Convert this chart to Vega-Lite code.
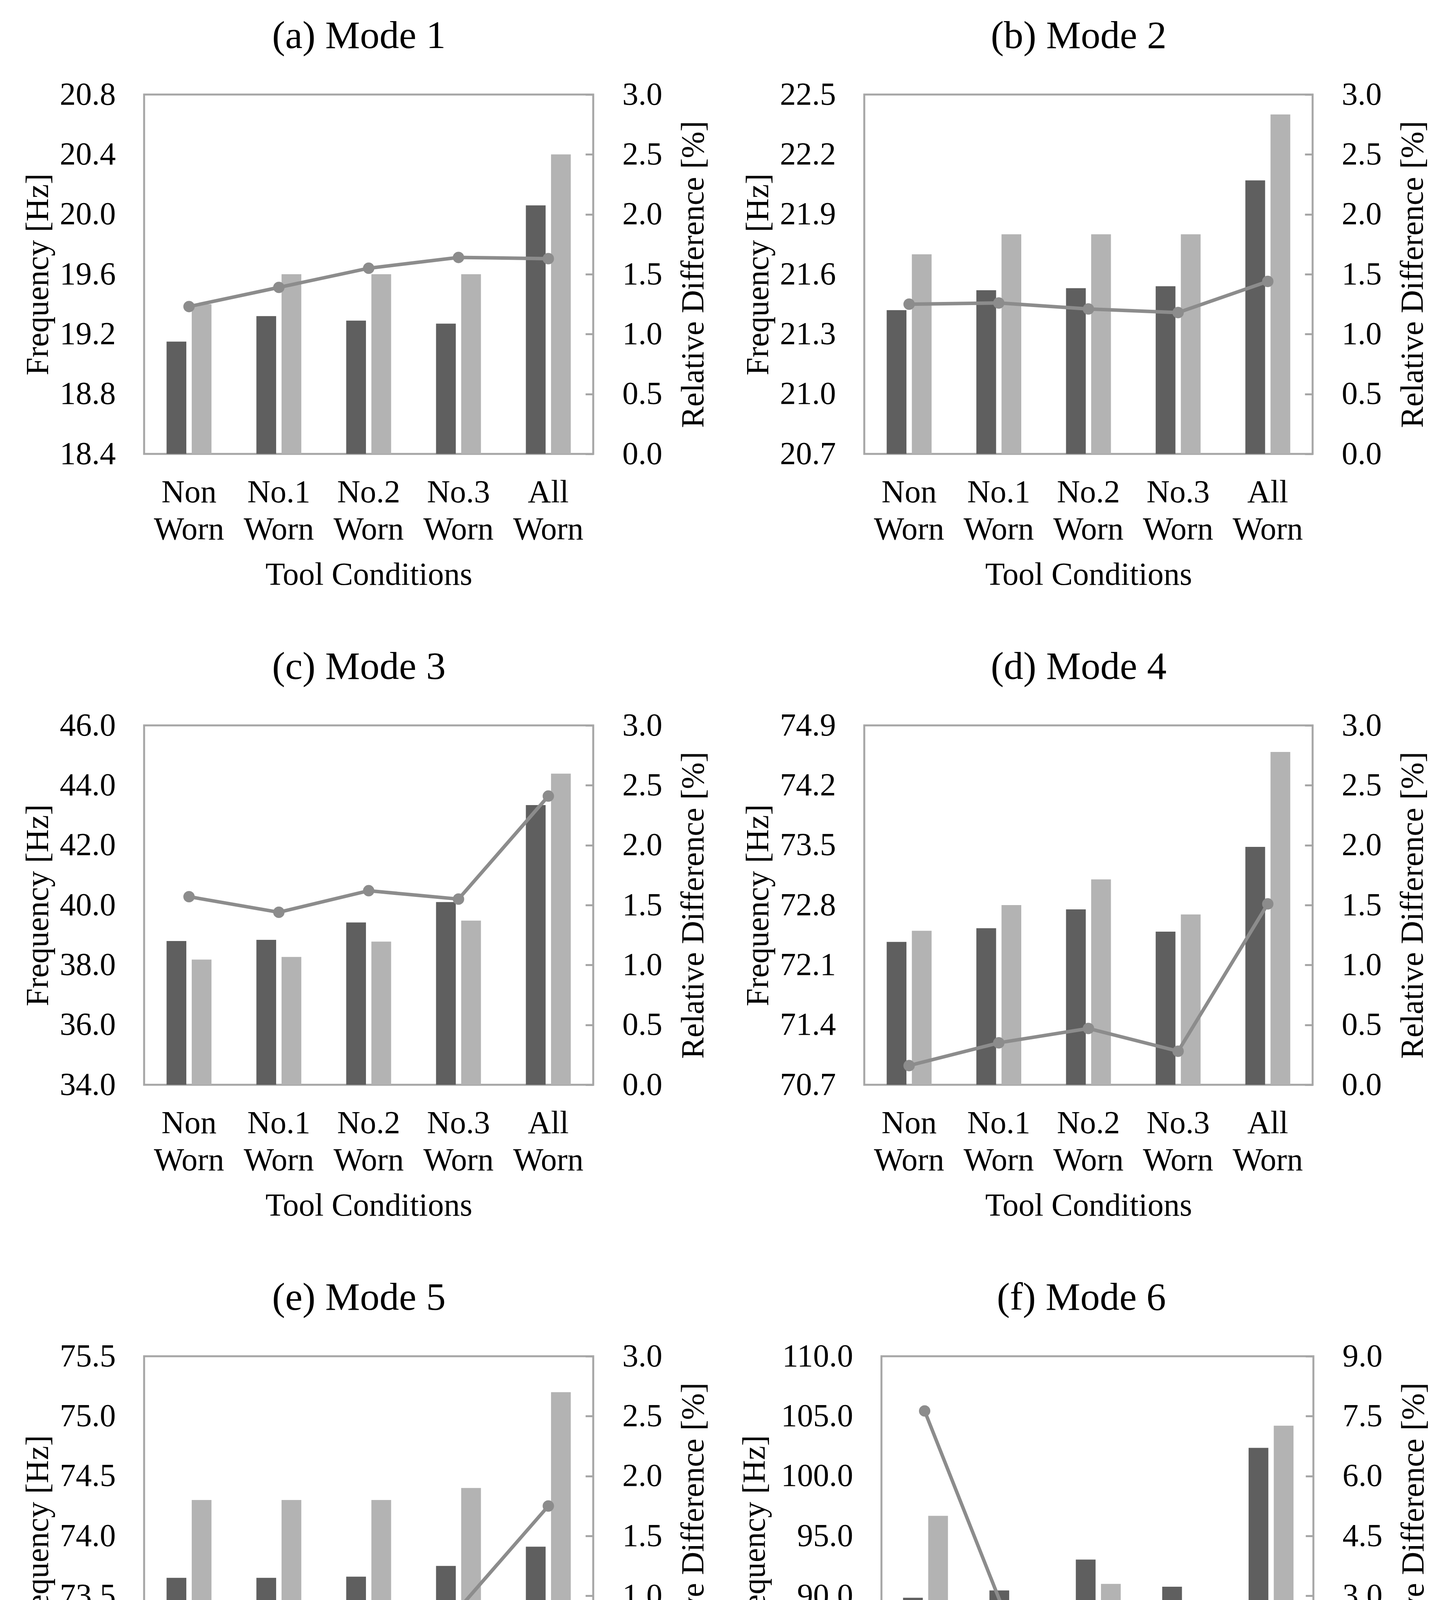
{
  "$schema": "https://vega.github.io/schema/vega-lite/v6.json",
  "background": "white",
  "padding": {"left": 53, "top": 40, "right": 5, "bottom": 5},
  "datasets": {
    "freq": [
      {"mode": 1, "cond": "Non Worn", "series": "Modal Analysis", "value": 19.15},
      {"mode": 1, "cond": "No.1 Worn", "series": "Modal Analysis", "value": 19.32},
      {"mode": 1, "cond": "No.2 Worn", "series": "Modal Analysis", "value": 19.29},
      {"mode": 1, "cond": "No.3 Worn", "series": "Modal Analysis", "value": 19.27},
      {"mode": 1, "cond": "All Worn", "series": "Modal Analysis", "value": 20.06},
      {"mode": 1, "cond": "Non Worn", "series": "Dynamic Analysis", "value": 19.4},
      {"mode": 1, "cond": "No.1 Worn", "series": "Dynamic Analysis", "value": 19.6},
      {"mode": 1, "cond": "No.2 Worn", "series": "Dynamic Analysis", "value": 19.6},
      {"mode": 1, "cond": "No.3 Worn", "series": "Dynamic Analysis", "value": 19.6},
      {"mode": 1, "cond": "All Worn", "series": "Dynamic Analysis", "value": 20.4},
      {"mode": 2, "cond": "Non Worn", "series": "Modal Analysis", "value": 21.42},
      {"mode": 2, "cond": "No.1 Worn", "series": "Modal Analysis", "value": 21.52},
      {"mode": 2, "cond": "No.2 Worn", "series": "Modal Analysis", "value": 21.53},
      {"mode": 2, "cond": "No.3 Worn", "series": "Modal Analysis", "value": 21.54},
      {"mode": 2, "cond": "All Worn", "series": "Modal Analysis", "value": 22.07},
      {"mode": 2, "cond": "Non Worn", "series": "Dynamic Analysis", "value": 21.7},
      {"mode": 2, "cond": "No.1 Worn", "series": "Dynamic Analysis", "value": 21.8},
      {"mode": 2, "cond": "No.2 Worn", "series": "Dynamic Analysis", "value": 21.8},
      {"mode": 2, "cond": "No.3 Worn", "series": "Dynamic Analysis", "value": 21.8},
      {"mode": 2, "cond": "All Worn", "series": "Dynamic Analysis", "value": 22.4},
      {"mode": 3, "cond": "Non Worn", "series": "Modal Analysis", "value": 38.8},
      {"mode": 3, "cond": "No.1 Worn", "series": "Modal Analysis", "value": 38.84},
      {"mode": 3, "cond": "No.2 Worn", "series": "Modal Analysis", "value": 39.42},
      {"mode": 3, "cond": "No.3 Worn", "series": "Modal Analysis", "value": 40.1},
      {"mode": 3, "cond": "All Worn", "series": "Modal Analysis", "value": 43.34},
      {"mode": 3, "cond": "Non Worn", "series": "Dynamic Analysis", "value": 38.18},
      {"mode": 3, "cond": "No.1 Worn", "series": "Dynamic Analysis", "value": 38.27},
      {"mode": 3, "cond": "No.2 Worn", "series": "Dynamic Analysis", "value": 38.78},
      {"mode": 3, "cond": "No.3 Worn", "series": "Dynamic Analysis", "value": 39.48},
      {"mode": 3, "cond": "All Worn", "series": "Dynamic Analysis", "value": 44.39},
      {"mode": 4, "cond": "Non Worn", "series": "Modal Analysis", "value": 72.37},
      {"mode": 4, "cond": "No.1 Worn", "series": "Modal Analysis", "value": 72.53},
      {"mode": 4, "cond": "No.2 Worn", "series": "Modal Analysis", "value": 72.75},
      {"mode": 4, "cond": "No.3 Worn", "series": "Modal Analysis", "value": 72.49},
      {"mode": 4, "cond": "All Worn", "series": "Modal Analysis", "value": 73.48},
      {"mode": 4, "cond": "Non Worn", "series": "Dynamic Analysis", "value": 72.5},
      {"mode": 4, "cond": "No.1 Worn", "series": "Dynamic Analysis", "value": 72.8},
      {"mode": 4, "cond": "No.2 Worn", "series": "Dynamic Analysis", "value": 73.1},
      {"mode": 4, "cond": "No.3 Worn", "series": "Dynamic Analysis", "value": 72.69},
      {"mode": 4, "cond": "All Worn", "series": "Dynamic Analysis", "value": 74.59},
      {"mode": 5, "cond": "Non Worn", "series": "Modal Analysis", "value": 73.65},
      {"mode": 5, "cond": "No.1 Worn", "series": "Modal Analysis", "value": 73.65},
      {"mode": 5, "cond": "No.2 Worn", "series": "Modal Analysis", "value": 73.66},
      {"mode": 5, "cond": "No.3 Worn", "series": "Modal Analysis", "value": 73.75},
      {"mode": 5, "cond": "All Worn", "series": "Modal Analysis", "value": 73.91},
      {"mode": 5, "cond": "Non Worn", "series": "Dynamic Analysis", "value": 74.3},
      {"mode": 5, "cond": "No.1 Worn", "series": "Dynamic Analysis", "value": 74.3},
      {"mode": 5, "cond": "No.2 Worn", "series": "Dynamic Analysis", "value": 74.3},
      {"mode": 5, "cond": "No.3 Worn", "series": "Dynamic Analysis", "value": 74.4},
      {"mode": 5, "cond": "All Worn", "series": "Dynamic Analysis", "value": 75.2},
      {"mode": 6, "cond": "Non Worn", "series": "Modal Analysis", "value": 89.84},
      {"mode": 6, "cond": "No.1 Worn", "series": "Modal Analysis", "value": 90.45},
      {"mode": 6, "cond": "No.2 Worn", "series": "Modal Analysis", "value": 93.03},
      {"mode": 6, "cond": "No.3 Worn", "series": "Modal Analysis", "value": 90.76},
      {"mode": 6, "cond": "All Worn", "series": "Modal Analysis", "value": 102.35},
      {"mode": 6, "cond": "Non Worn", "series": "Dynamic Analysis", "value": 96.68},
      {"mode": 6, "cond": "No.1 Worn", "series": "Dynamic Analysis", "value": 88.5},
      {"mode": 6, "cond": "No.2 Worn", "series": "Dynamic Analysis", "value": 91.0},
      {"mode": 6, "cond": "No.3 Worn", "series": "Dynamic Analysis", "value": 88.9},
      {"mode": 6, "cond": "All Worn", "series": "Dynamic Analysis", "value": 104.2}
    ],
    "rel": [
      {"mode": 1, "cond": "Non Worn", "rd": 1.23},
      {"mode": 1, "cond": "No.1 Worn", "rd": 1.39},
      {"mode": 1, "cond": "No.2 Worn", "rd": 1.55},
      {"mode": 1, "cond": "No.3 Worn", "rd": 1.64},
      {"mode": 1, "cond": "All Worn", "rd": 1.63},
      {"mode": 2, "cond": "Non Worn", "rd": 1.25},
      {"mode": 2, "cond": "No.1 Worn", "rd": 1.26},
      {"mode": 2, "cond": "No.2 Worn", "rd": 1.21},
      {"mode": 2, "cond": "No.3 Worn", "rd": 1.18},
      {"mode": 2, "cond": "All Worn", "rd": 1.44},
      {"mode": 3, "cond": "Non Worn", "rd": 1.57},
      {"mode": 3, "cond": "No.1 Worn", "rd": 1.44},
      {"mode": 3, "cond": "No.2 Worn", "rd": 1.62},
      {"mode": 3, "cond": "No.3 Worn", "rd": 1.55},
      {"mode": 3, "cond": "All Worn", "rd": 2.41},
      {"mode": 4, "cond": "Non Worn", "rd": 0.16},
      {"mode": 4, "cond": "No.1 Worn", "rd": 0.35},
      {"mode": 4, "cond": "No.2 Worn", "rd": 0.47},
      {"mode": 4, "cond": "No.3 Worn", "rd": 0.28},
      {"mode": 4, "cond": "All Worn", "rd": 1.51},
      {"mode": 5, "cond": "Non Worn", "rd": 0.88},
      {"mode": 5, "cond": "No.1 Worn", "rd": 0.88},
      {"mode": 5, "cond": "No.2 Worn", "rd": 0.87},
      {"mode": 5, "cond": "No.3 Worn", "rd": 0.89},
      {"mode": 5, "cond": "All Worn", "rd": 1.75},
      {"mode": 6, "cond": "Non Worn", "rd": 7.63},
      {"mode": 6, "cond": "No.1 Worn", "rd": 2.17},
      {"mode": 6, "cond": "No.2 Worn", "rd": 2.18},
      {"mode": 6, "cond": "No.3 Worn", "rd": 2.05},
      {"mode": 6, "cond": "All Worn", "rd": 1.8}
    ]
  },
  "spacing": 140,
  "vconcat": [
    {
      "spacing": 78,
      "hconcat": [
        {
          "title": {"text": "(a) Mode 1", "dx": -25},
          "width": 1150, "height": 920,
          "layer": [
            {
              "data": {"name": "freq"},
              "transform": [{"filter": "datum.mode == 1"}],
              "mark": {"type": "bar", "clip": true},
              "encoding": {
                "x": {"field": "cond", "type": "nominal", "sort": ["Non Worn", "No.1 Worn", "No.2 Worn", "No.3 Worn", "All Worn"], "scale": {"paddingInner": 0.5, "paddingOuter": 0.25}, "axis": {"title": "Tool Conditions", "labelExpr": "split(datum.label, ' ')"}},
                "xOffset": {"field": "series", "type": "nominal", "sort": ["Modal Analysis", "Dynamic Analysis"], "scale": {"paddingInner": 0.215, "paddingOuter": 0}},
                "y": {"field": "value", "type": "quantitative", "scale": {"domain": [18.4, 20.8], "zero": false, "nice": false}, "axis": {"title": "Frequency [Hz]", "values": [18.4, 18.8, 19.2, 19.6, 20.0, 20.4, 20.8], "format": ".1f"}},
                "color": {
                  "field": "series", "type": "nominal",
                  "scale": {"domain": ["Modal Analysis", "Dynamic Analysis", "Relative Difference"], "range": ["#5f5f5f", "#b3b3b3", "#8c8c8c"]},
                  "legend": {
                    "orient": "none", "legendX": 63, "legendY": 4607, "direction": "horizontal", "title": null,
                    "labelFontSize": 90, "labelColor": "#595959", "labelFont": "Liberation Serif", "labelLimit": 2000,
                    "labelOffset": 117, "columnPadding": 150, "symbolSize": 2209, "symbolStrokeWidth": 0,
                    "encode": {
                      "symbols": {
                        "update": {
                          "shape": {"signal": "datum.value === 'Relative Difference' ? 'M-1,-0.213H6.36V0.213H-1Z M2.0,0A0.68,0.68 0 1 1 3.36,0A0.68,0.68 0 1 1 2.0,0Z' : 'M-1,-1H6.36V1H-1Z'"},
                          "fill": {"signal": "datum.value === 'Modal Analysis' ? '#5f5f5f' : datum.value === 'Dynamic Analysis' ? '#b3b3b3' : '#8c8c8c'"},
                          "stroke": {"value": "transparent"}
                        }
                      }
                    }
                  }
                }
              }
            },
            {
              "data": {"name": "rel"},
              "transform": [{"filter": "datum.mode == 1"}],
              "mark": {"type": "line", "color": "#8c8c8c", "strokeWidth": 9, "point": {"filled": true, "size": 850, "color": "#8c8c8c"}},
              "encoding": {
                "x": {"field": "cond", "type": "nominal", "sort": ["Non Worn", "No.1 Worn", "No.2 Worn", "No.3 Worn", "All Worn"], "axis": {"title": "Tool Conditions", "labelExpr": "split(datum.label, ' ')"}},
                "y": {"field": "rd", "type": "quantitative", "scale": {"domain": [0, 3], "nice": false}, "axis": {"orient": "right", "title": "Relative Difference [%]", "values": [0, 0.5, 1, 1.5, 2, 2.5, 3], "format": ".1f"}}
              }
            }
          ],
          "resolve": {"scale": {"y": "independent"}}
        },
        {
          "title": {"text": "(b) Mode 2", "dx": -25},
          "width": 1148, "height": 920,
          "layer": [
            {
              "data": {"name": "freq"},
              "transform": [{"filter": "datum.mode == 2"}],
              "mark": {"type": "bar", "clip": true},
              "encoding": {
                "x": {"field": "cond", "type": "nominal", "sort": ["Non Worn", "No.1 Worn", "No.2 Worn", "No.3 Worn", "All Worn"], "scale": {"paddingInner": 0.5, "paddingOuter": 0.25}, "axis": {"title": "Tool Conditions", "labelExpr": "split(datum.label, ' ')"}},
                "xOffset": {"field": "series", "type": "nominal", "sort": ["Modal Analysis", "Dynamic Analysis"], "scale": {"paddingInner": 0.215, "paddingOuter": 0}},
                "y": {"field": "value", "type": "quantitative", "scale": {"domain": [20.7, 22.5], "zero": false, "nice": false}, "axis": {"title": "Frequency [Hz]", "values": [20.7, 21.0, 21.3, 21.6, 21.9, 22.2, 22.5], "format": ".1f"}},
                "color": {"field": "series", "type": "nominal", "scale": {"domain": ["Modal Analysis", "Dynamic Analysis", "Relative Difference"], "range": ["#5f5f5f", "#b3b3b3", "#8c8c8c"]}, "legend": null}
              }
            },
            {
              "data": {"name": "rel"},
              "transform": [{"filter": "datum.mode == 2"}],
              "mark": {"type": "line", "color": "#8c8c8c", "strokeWidth": 9, "point": {"filled": true, "size": 850, "color": "#8c8c8c"}},
              "encoding": {
                "x": {"field": "cond", "type": "nominal", "sort": ["Non Worn", "No.1 Worn", "No.2 Worn", "No.3 Worn", "All Worn"], "axis": {"title": "Tool Conditions", "labelExpr": "split(datum.label, ' ')"}},
                "y": {"field": "rd", "type": "quantitative", "scale": {"domain": [0, 3], "nice": false}, "axis": {"orient": "right", "title": "Relative Difference [%]", "values": [0, 0.5, 1, 1.5, 2, 2.5, 3], "format": ".1f"}}
              }
            }
          ],
          "resolve": {"scale": {"y": "independent"}}
        }
      ]
    },
    {
      "spacing": 78,
      "hconcat": [
        {
          "title": {"text": "(c) Mode 3", "dx": -25},
          "width": 1150, "height": 920,
          "layer": [
            {
              "data": {"name": "freq"},
              "transform": [{"filter": "datum.mode == 3"}],
              "mark": {"type": "bar", "clip": true},
              "encoding": {
                "x": {"field": "cond", "type": "nominal", "sort": ["Non Worn", "No.1 Worn", "No.2 Worn", "No.3 Worn", "All Worn"], "scale": {"paddingInner": 0.5, "paddingOuter": 0.25}, "axis": {"title": "Tool Conditions", "labelExpr": "split(datum.label, ' ')"}},
                "xOffset": {"field": "series", "type": "nominal", "sort": ["Modal Analysis", "Dynamic Analysis"], "scale": {"paddingInner": 0.215, "paddingOuter": 0}},
                "y": {"field": "value", "type": "quantitative", "scale": {"domain": [34, 46], "zero": false, "nice": false}, "axis": {"title": "Frequency [Hz]", "values": [34, 36, 38, 40, 42, 44, 46], "format": ".1f"}},
                "color": {"field": "series", "type": "nominal", "scale": {"domain": ["Modal Analysis", "Dynamic Analysis", "Relative Difference"], "range": ["#5f5f5f", "#b3b3b3", "#8c8c8c"]}, "legend": null}
              }
            },
            {
              "data": {"name": "rel"},
              "transform": [{"filter": "datum.mode == 3"}],
              "mark": {"type": "line", "color": "#8c8c8c", "strokeWidth": 9, "point": {"filled": true, "size": 850, "color": "#8c8c8c"}},
              "encoding": {
                "x": {"field": "cond", "type": "nominal", "sort": ["Non Worn", "No.1 Worn", "No.2 Worn", "No.3 Worn", "All Worn"], "axis": {"title": "Tool Conditions", "labelExpr": "split(datum.label, ' ')"}},
                "y": {"field": "rd", "type": "quantitative", "scale": {"domain": [0, 3], "nice": false}, "axis": {"orient": "right", "title": "Relative Difference [%]", "values": [0, 0.5, 1, 1.5, 2, 2.5, 3], "format": ".1f"}}
              }
            }
          ],
          "resolve": {"scale": {"y": "independent"}}
        },
        {
          "title": {"text": "(d) Mode 4", "dx": -25},
          "width": 1148, "height": 920,
          "layer": [
            {
              "data": {"name": "freq"},
              "transform": [{"filter": "datum.mode == 4"}],
              "mark": {"type": "bar", "clip": true},
              "encoding": {
                "x": {"field": "cond", "type": "nominal", "sort": ["Non Worn", "No.1 Worn", "No.2 Worn", "No.3 Worn", "All Worn"], "scale": {"paddingInner": 0.5, "paddingOuter": 0.25}, "axis": {"title": "Tool Conditions", "labelExpr": "split(datum.label, ' ')"}},
                "xOffset": {"field": "series", "type": "nominal", "sort": ["Modal Analysis", "Dynamic Analysis"], "scale": {"paddingInner": 0.215, "paddingOuter": 0}},
                "y": {"field": "value", "type": "quantitative", "scale": {"domain": [70.7, 74.9], "zero": false, "nice": false}, "axis": {"title": "Frequency [Hz]", "values": [70.7, 71.4, 72.1, 72.8, 73.5, 74.2, 74.9], "format": ".1f"}},
                "color": {"field": "series", "type": "nominal", "scale": {"domain": ["Modal Analysis", "Dynamic Analysis", "Relative Difference"], "range": ["#5f5f5f", "#b3b3b3", "#8c8c8c"]}, "legend": null}
              }
            },
            {
              "data": {"name": "rel"},
              "transform": [{"filter": "datum.mode == 4"}],
              "mark": {"type": "line", "color": "#8c8c8c", "strokeWidth": 9, "point": {"filled": true, "size": 850, "color": "#8c8c8c"}},
              "encoding": {
                "x": {"field": "cond", "type": "nominal", "sort": ["Non Worn", "No.1 Worn", "No.2 Worn", "No.3 Worn", "All Worn"], "axis": {"title": "Tool Conditions", "labelExpr": "split(datum.label, ' ')"}},
                "y": {"field": "rd", "type": "quantitative", "scale": {"domain": [0, 3], "nice": false}, "axis": {"orient": "right", "title": "Relative Difference [%]", "values": [0, 0.5, 1, 1.5, 2, 2.5, 3], "format": ".1f"}}
              }
            }
          ],
          "resolve": {"scale": {"y": "independent"}}
        }
      ]
    },
    {
      "spacing": 69,
      "hconcat": [
        {
          "title": {"text": "(e) Mode 5", "dx": -25},
          "width": 1150, "height": 920,
          "layer": [
            {
              "data": {"name": "freq"},
              "transform": [{"filter": "datum.mode == 5"}],
              "mark": {"type": "bar", "clip": true},
              "encoding": {
                "x": {"field": "cond", "type": "nominal", "sort": ["Non Worn", "No.1 Worn", "No.2 Worn", "No.3 Worn", "All Worn"], "scale": {"paddingInner": 0.5, "paddingOuter": 0.25}, "axis": {"title": "Tool Conditions", "labelExpr": "split(datum.label, ' ')"}},
                "xOffset": {"field": "series", "type": "nominal", "sort": ["Modal Analysis", "Dynamic Analysis"], "scale": {"paddingInner": 0.215, "paddingOuter": 0}},
                "y": {"field": "value", "type": "quantitative", "scale": {"domain": [72.5, 75.5], "zero": false, "nice": false}, "axis": {"title": "Frequency [Hz]", "values": [72.5, 73.0, 73.5, 74.0, 74.5, 75.0, 75.5], "format": ".1f"}},
                "color": {"field": "series", "type": "nominal", "scale": {"domain": ["Modal Analysis", "Dynamic Analysis", "Relative Difference"], "range": ["#5f5f5f", "#b3b3b3", "#8c8c8c"]}, "legend": null}
              }
            },
            {
              "data": {"name": "rel"},
              "transform": [{"filter": "datum.mode == 5"}],
              "mark": {"type": "line", "color": "#8c8c8c", "strokeWidth": 9, "point": {"filled": true, "size": 850, "color": "#8c8c8c"}},
              "encoding": {
                "x": {"field": "cond", "type": "nominal", "sort": ["Non Worn", "No.1 Worn", "No.2 Worn", "No.3 Worn", "All Worn"], "axis": {"title": "Tool Conditions", "labelExpr": "split(datum.label, ' ')"}},
                "y": {"field": "rd", "type": "quantitative", "scale": {"domain": [0, 3], "nice": false}, "axis": {"orient": "right", "title": "Relative Difference [%]", "values": [0, 0.5, 1, 1.5, 2, 2.5, 3], "format": ".1f"}}
              }
            }
          ],
          "resolve": {"scale": {"y": "independent"}}
        },
        {
          "title": {"text": "(f) Mode 6", "dx": -41},
          "width": 1106, "height": 920,
          "layer": [
            {
              "data": {"name": "freq"},
              "transform": [{"filter": "datum.mode == 6"}],
              "mark": {"type": "bar", "clip": true},
              "encoding": {
                "x": {"field": "cond", "type": "nominal", "sort": ["Non Worn", "No.1 Worn", "No.2 Worn", "No.3 Worn", "All Worn"], "scale": {"paddingInner": 0.5, "paddingOuter": 0.25}, "axis": {"title": "Tool Conditions", "labelExpr": "split(datum.label, ' ')"}},
                "xOffset": {"field": "series", "type": "nominal", "sort": ["Modal Analysis", "Dynamic Analysis"], "scale": {"paddingInner": 0.215, "paddingOuter": 0}},
                "y": {"field": "value", "type": "quantitative", "scale": {"domain": [80, 110], "zero": false, "nice": false}, "axis": {"title": "Frequency [Hz]", "titlePadding": 83, "values": [80, 85, 90, 95, 100, 105, 110], "format": ".1f"}},
                "color": {"field": "series", "type": "nominal", "scale": {"domain": ["Modal Analysis", "Dynamic Analysis", "Relative Difference"], "range": ["#5f5f5f", "#b3b3b3", "#8c8c8c"]}, "legend": null}
              }
            },
            {
              "data": {"name": "rel"},
              "transform": [{"filter": "datum.mode == 6"}],
              "mark": {"type": "line", "color": "#8c8c8c", "strokeWidth": 9, "point": {"filled": true, "size": 850, "color": "#8c8c8c"}},
              "encoding": {
                "x": {"field": "cond", "type": "nominal", "sort": ["Non Worn", "No.1 Worn", "No.2 Worn", "No.3 Worn", "All Worn"], "axis": {"title": "Tool Conditions", "labelExpr": "split(datum.label, ' ')"}},
                "y": {"field": "rd", "type": "quantitative", "scale": {"domain": [0, 9], "nice": false}, "axis": {"orient": "right", "title": "Relative Difference [%]", "values": [0, 1.5, 3, 4.5, 6, 7.5, 9], "format": ".1f"}}
              }
            }
          ],
          "resolve": {"scale": {"y": "independent"}}
        }
      ]
    }
  ],
  "config": {
    "font": "Liberation Serif",
    "view": {"stroke": "#a6a6a6", "strokeWidth": 5},
    "title": {"fontSize": 100, "fontWeight": "normal", "color": "black", "baseline": "alphabetic", "offset": 57},
    "axis": {"grid": false, "domain": false, "ticks": false, "labelFontSize": 82, "titleFontSize": 82, "labelColor": "black", "titleColor": "black", "titleFontWeight": "normal", "labelFont": "Liberation Serif", "titleFont": "Liberation Serif", "labelLimit": 1000, "titleLimit": 2000},
    "axisLeft": {"labelPadding": 73, "titlePadding": 30},
    "axisRight": {"ticks": true, "tickSize": -20, "tickColor": "#a6a6a6", "tickWidth": 5, "labelPadding": 94, "titlePadding": 40, "titleAngle": 270, "titleBaseline": "top"},
    "axisBottom": {"labelAngle": 0, "labelPadding": 58, "titlePadding": 69, "labelLineHeight": 95}
  }
}
